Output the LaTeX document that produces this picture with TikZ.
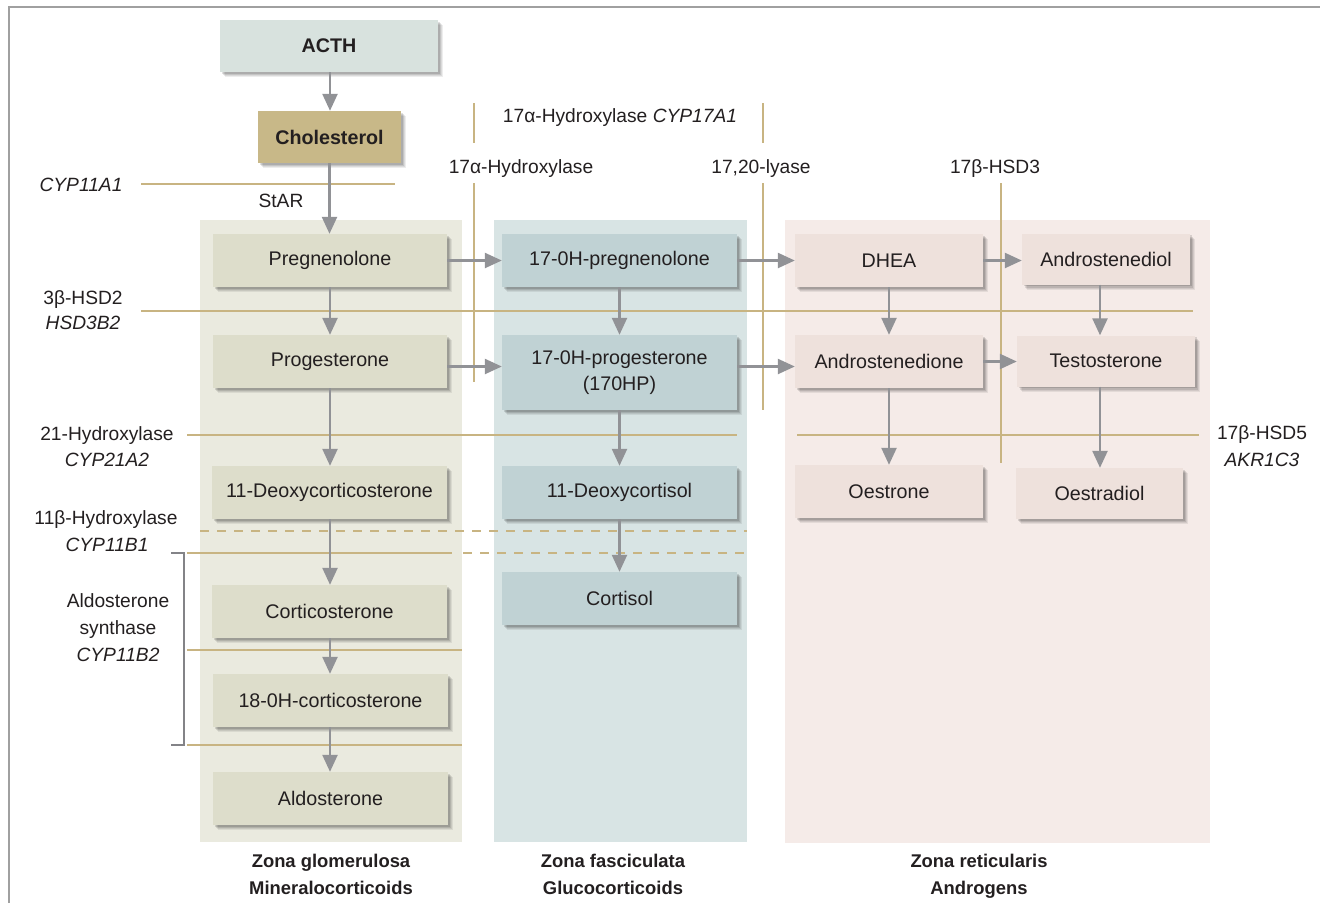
\documentclass[tikz,border=0pt]{standalone}
\usepackage{fontspec}
\setmainfont{Liberation Sans}
\usetikzlibrary{arrows.meta,shadows}
\definecolor{txt}{HTML}{231F20}
\definecolor{tan}{HTML}{C8B482}
\definecolor{arrgrey}{HTML}{919296}
\definecolor{framegrey}{HTML}{A0A0A0}
\definecolor{zoneG}{HTML}{EAEADF}
\definecolor{zoneF}{HTML}{D8E4E4}
\definecolor{zoneR}{HTML}{F5EBE8}
\definecolor{boxG}{HTML}{DDDDCB}
\definecolor{boxF}{HTML}{C0D2D4}
\definecolor{boxR}{HTML}{EEE1DC}
\definecolor{boxA}{HTML}{D8E2DE}
\definecolor{boxC}{HTML}{C8B888}
\newcommand\bxfont{\fontsize{19.7}{26}\selectfont}
\newcommand\lblfont{\fontsize{19.2}{26}\selectfont}
\newcommand\zonefont{\fontsize{18.4}{27}\selectfont\bfseries}
\tikzset{
  stepbox/.style={draw=none, inner sep=0pt, align=center, font=\bxfont, text=txt,
    drop shadow={shadow xshift=5pt, shadow yshift=-5pt, opacity=0.07, fill=black},
    drop shadow={shadow xshift=4pt, shadow yshift=-4pt, opacity=0.08, fill=black},
    drop shadow={shadow xshift=3pt, shadow yshift=-3pt, opacity=0.1, fill=black},
    drop shadow={shadow xshift=1.8pt, shadow yshift=-1.8pt, opacity=0.12, fill=black}},
  gbox/.style={stepbox, fill=boxG},
  fbox/.style={stepbox, fill=boxF},
  rbox/.style={stepbox, fill=boxR},
  arr/.style={draw=arrgrey, line width=2.4pt, -{Triangle[length=17pt,width=15pt]}},
  enz/.style={draw=tan, line width=2.4pt},
  enzd/.style={draw=tan, line width=2.4pt, dash pattern=on 9pt off 8pt},
  lbl/.style={font=\lblfont, text=txt, inner sep=0pt, align=center, anchor=base, yshift=-7pt},
  zlbl/.style={font=\zonefont, text=txt, inner sep=0pt, align=center, anchor=base, yshift=-6.5pt},
}
\begin{document}
\begin{tikzpicture}[x=1pt,y=-1pt]
\useasboundingbox (0,0) rectangle (1320,903);
% frame
\draw[framegrey, line width=2pt] (9,903) -- (9,7) -- (1320,7);
% zones
\fill[zoneG] (200,220) rectangle (462,842);
\fill[zoneF] (494,220) rectangle (747,842);
\fill[zoneR] (785,220) rectangle (1210,843);
% enzyme lines
\draw[enz] (141,184) -- (395,184);
\draw[enz] (141,311) -- (1193,311);
\draw[enz] (187,435) -- (737,435);
\draw[enz] (797,435) -- (1199,435);
\draw[enzd] (200,531) -- (747,531);
\draw[enz] (187,553) -- (452,553);
\draw[enzd] (463,553) -- (747,553);
\draw[enz] (187,650) -- (462,650);
\draw[enz] (187,745) -- (462,745);
\draw[enz] (474,103) -- (474,143);
\draw[enz] (474,183) -- (474,382);
\draw[enz] (763,103) -- (763,143);
\draw[enz] (763,183) -- (763,410);
\draw[enz] (1001,183) -- (1001,463);
% bracket
\draw[arrgrey!90!black, line width=1.2pt] (171,553) -- (184,553) -- (184,745) -- (171,745);
% labels
\node[lbl] (lA) at (81,184) {\itshape CYP11A1};
\node[lbl] (lStar) at (281,200) {StAR};
\node[lbl] (lB1) at (83,297) {3β-HSD2};
\node[lbl] (lB2) at (83,322) {\itshape HSD3B2};
\node[lbl] (lC1) at (107,433) {21-Hydroxylase};
\node[lbl] (lC2) at (107,459) {\itshape CYP21A2};
\node[lbl] (lD1) at (106,517) {11β-Hydroxylase};
\node[lbl] (lD2) at (107,544) {\itshape CYP11B1};
\node[lbl] (lE1) at (118,600) {Aldosterone};
\node[lbl] (lE2) at (118,627) {synthase};
\node[lbl] (lE3) at (118,654) {\itshape CYP11B2};
\node[lbl] (lF1) at (1262,432) {17β-HSD5};
\node[lbl] (lF2) at (1262,459) {\itshape AKR1C3};
\node[lbl] (lG) at (620,115) {17α-Hydroxylase \itshape CYP17A1};
\node[lbl] (lH) at (521,166) {17α-Hydroxylase};
\node[lbl] (lI) at (761,166) {17,20-lyase};
\node[lbl] (lJ) at (995,166) {17β-HSD3};
% zone labels
\node[zlbl] (zG) at (331,888) {Zona glomerulosa\\Mineralocorticoids};
\node[zlbl] (zF) at (613,888) {Zona fasciculata\\Glucocorticoids};
\node[zlbl] (zR) at (979,888) {Zona reticularis\\Androgens};
% boxes
\node[stepbox, fill=boxA, minimum width=218pt, minimum height=52pt, font=\bxfont\bfseries] (acth) at (329,46) {ACTH};
\node[stepbox, fill=boxC, minimum width=143pt, minimum height=52pt, font=\bxfont\bfseries] (chol) at (329.5,137) {Cholesterol};
\node[gbox, minimum width=234pt, minimum height=53pt] (preg) at (330,260.5) {Pregnenolone};
\node[gbox, minimum width=234pt, minimum height=53pt] (prog) at (330,361.5) {Progesterone};
\node[gbox, minimum width=235pt, minimum height=53pt] (doc) at (329.5,492.5) {11-Deoxycorticosterone};
\node[gbox, minimum width=235pt, minimum height=53pt] (cort) at (329.5,611.5) {Corticosterone};
\node[gbox, minimum width=235pt, minimum height=53pt] (ohc) at (330.5,700.5) {18-0H-corticosterone};
\node[gbox, minimum width=235pt, minimum height=53pt] (aldo) at (330.5,798.5) {Aldosterone};
\node[fbox, minimum width=235pt, minimum height=53pt] (ohpreg) at (619.5,260.5) {17-0H-pregnenolone};
\node[fbox, minimum width=235pt, minimum height=75pt] (ohp) at (619.5,372.5) {17-0H-progesterone\\(170HP)};
\node[fbox, minimum width=235pt, minimum height=53pt] (deoxy) at (619.5,492.5) {11-Deoxycortisol};
\node[fbox, minimum width=235pt, minimum height=53pt] (cortisol) at (619.5,598.5) {Cortisol};
\node[rbox, minimum width=188pt, minimum height=53pt] (dhea) at (889,260.5) {DHEA};
\node[rbox, minimum width=168pt, minimum height=51pt] (adiol) at (1106,259) {Androstenediol};
\node[rbox, minimum width=188pt, minimum height=53pt] (adione) at (889,361.5) {Androstenedione};
\node[rbox, minimum width=178pt, minimum height=51pt] (testo) at (1106,361) {Testosterone};
\node[rbox, minimum width=188pt, minimum height=53pt] (oestrone) at (889,491.5) {Oestrone};
\node[rbox, minimum width=167pt, minimum height=51pt] (oestradiol) at (1099.5,493.5) {Oestradiol};
% arrows
\draw[arr] ([xshift=1pt]acth.south) -- ([xshift=1pt]acth.south |- chol.north);
\draw[arr] (chol.south) -- (chol.south |- preg.north);
\draw[arr] (preg.south) -- (preg.south |- prog.north);
\draw[arr] (prog.south) -- (prog.south |- doc.north);
\draw[arr] (prog.south |- doc.south) -- (prog.south |- cort.north);
\draw[arr] (prog.south |- cort.south) -- (prog.south |- ohc.north);
\draw[arr] (prog.south |- ohc.south) -- (prog.south |- aldo.north);
\draw[arr] (preg.east) -- (preg.east -| ohpreg.west);
\draw[arr] ([yshift=-5pt]prog.east) -- ([yshift=-5pt]prog.east -| ohp.west);
\draw[arr] (ohpreg.east) -- (ohpreg.east -| dhea.west);
\draw[arr] ([yshift=-5pt]adione.west -| ohp.east) -- ([yshift=-5pt]adione.west);
\draw[arr] (ohpreg.south) -- (ohpreg.south |- ohp.north);
\draw[arr] (ohp.south) -- (ohp.south |- deoxy.north);
\draw[arr] (deoxy.south) -- (deoxy.south |- cortisol.north);
\draw[arr] (dhea.south) -- (dhea.south |- adione.north);
\draw[arr] (adione.south) -- (adione.south |- oestrone.north);
\draw[arr] (dhea.east) -- (dhea.east -| adiol.west);
\draw[arr] (adione.east) -- (adione.east -| testo.west);
\draw[arr] ([xshift=-6pt]adiol.south) -- ([xshift=-6pt]adiol.south |- testo.north);
\draw[arr] ([xshift=-6pt]testo.south) -- ([xshift=-6pt]testo.south |- oestradiol.north);
\end{tikzpicture}
\end{document}
